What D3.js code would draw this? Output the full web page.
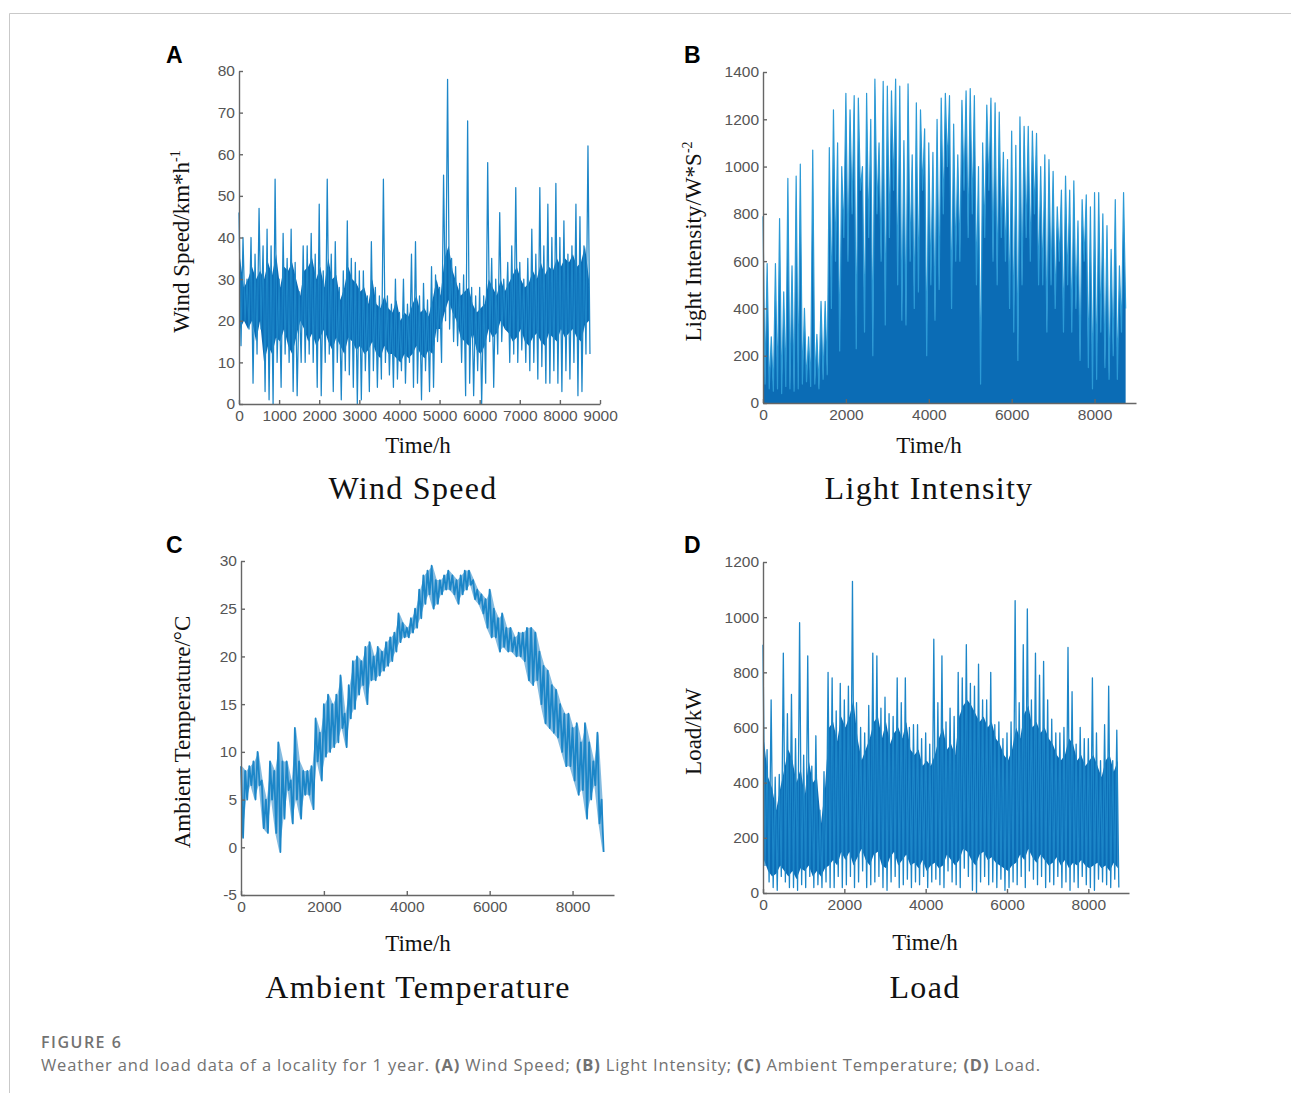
<!DOCTYPE html>
<html>
<head>
<meta charset="utf-8">
<script src="https://cdn.jsdelivr.net/npm/d3@7"></script>
<style>
  body { margin: 0; background: #fff; }
  .axis path, .axis line { stroke: #666; stroke-width: 1.4; }
  .axis text { fill: #555; }
  .axis-title { font-family: "Liberation Serif", "Times New Roman", serif; font-size: 23px; fill: #111; }
  .panel-title { font-family: "Liberation Serif", "Times New Roman", serif; font-size: 32px; letter-spacing: 1.3px; fill: #111; }
  .panel-letter { font-family: "Liberation Sans", Arial, sans-serif; font-size: 23px; font-weight: bold; fill: #000; }
</style>
</head>
<body>
<svg id="fig"></svg>
<script>
// hourly series for one year, summarised per 100 h bin
const STEP = 100;

const windHi = [46,40,30,40,36,47,38,42,38,54,
                30,41,35,42,34,27,38,38,41,36,
                48,32,54,36,39,28,32,44,35,34,
                32,32,26,39,28,26,54,26,24,30,
                22,30,24,36,39,26,29,25,33,31,
                28,55,78,35,33,29,31,68,28,26,
                28,26,58,35,30,46,30,34,38,52,
                34,30,35,42,36,52,38,48,40,53,
                40,44,36,38,48,45,38,62];
const windLo = [14,20,18,5,12,18,3,1,0,10,
                4,12,10,3,2,10,10,12,10,4,
                2,10,12,3,10,1,8,7,4,0,
                1,8,3,8,4,6,10,7,4,6,
                8,5,10,4,5,1,8,3,4,15,
                10,20,18,15,14,10,2,5,2,8,
                0,5,15,4,12,15,18,10,12,10,
                13,10,8,10,6,9,5,5,8,5,
                3,8,6,10,2,3,12,12];
const windCoreLo = [18,20,18,20,15,20,10,14,12,16,
                    15,18,14,12,16,20,18,15,17,14,
                    16,18,15,13,16,14,12,16,15,13,
                    14,12,13,15,12,11,14,12,12,11,
                    10,12,11,12,14,12,11,13,12,18,
                    18,22,25,22,20,16,15,14,17,13,
                    12,14,18,16,17,20,18,17,15,16,
                    18,15,14,16,17,15,14,17,16,15,
                    18,16,17,18,16,15,19,20];
const windCoreHi = [35,28,30,33,30,32,30,34,31,36,
                    28,33,32,34,30,26,32,33,35,30,
                    33,28,35,30,31,25,28,33,30,29,
                    27,28,24,30,24,23,26,23,22,25,
                    20,22,21,24,26,22,23,21,25,30,
                    26,35,38,32,29,26,27,28,24,22,
                    23,24,30,28,26,30,27,29,31,33,
                    30,28,29,32,30,34,31,33,32,35,
                    33,35,34,36,33,34,38,30];

const lightHi = [790,590,280,590,780,470,950,580,960,1010,
                 400,280,1070,290,430,430,1080,1240,1100,1000,
                 1310,1240,1300,1290,1000,1310,1200,1370,1100,1360,
                 1340,1320,1370,1340,1110,1350,1050,1270,1240,1160,
                 1100,1060,1200,1290,1310,1300,1180,1050,1280,1320,
                 1330,1300,1000,1100,1260,1290,1270,1230,1060,1030,
                 1150,1090,1210,1170,1170,1150,1140,1000,1050,1030,
                 980,830,900,960,900,940,770,860,880,830,
                 890,890,800,750,650,860,580,890];
const lightLo = [80,60,50,60,40,70,60,50,60,80,
                 90,70,80,60,100,120,400,600,220,700,
                 600,800,230,900,300,700,200,800,600,330,
                 700,900,500,350,330,600,400,470,900,200,
                 500,350,480,800,1000,400,600,600,900,700,
                 800,500,80,700,900,600,500,700,600,400,
                 300,180,500,700,600,800,500,500,300,500,
                 400,600,300,500,300,400,180,600,150,60,
                 100,300,150,100,200,100,300,400];

const tempHi = [8.5,8,8.5,9,10,7,5,9,8,11,
                9,9,7,12.5,9,8,8,8.5,13.5,12,
                15,16,15,16,18,14,17,19.5,20,19.5,
                21,21.5,20,21,20.5,21.5,22,22.5,24.5,23.5,
                23,24,25,27,28.5,29,29.5,28,28,28.5,
                29,28.5,28,28.5,29,29,28,27,26.5,26,
                27,25,24,24.5,23,23,22,22.5,22.5,23,
                23,22.5,20.5,19,18.5,17,16.5,15,14,14,
                12.5,13,11,13,11,9,12,5];
const tempLo = [1,5,6.5,5,6.5,2,1.5,5,1.5,-0.5,
                3,6,2.5,5,3,5.5,5.5,4,9,7,
                9.5,10,10.5,11,12.5,10.5,13.5,14.5,16,17,
                15,17.5,17.5,18,18.5,19,19.5,20.5,21.5,22,
                22,22.5,23,24,25.5,26.5,25,25.5,26.5,27,
                27,26.5,25.5,26.5,27,27.5,26,25.5,24.5,23,
                22,22,20.5,21,20.5,20.5,20,20,19.5,17.5,
                17,17.5,15,13,12.5,12,11.5,10,8.5,8.5,
                7,5.5,6,3,5,6.5,2.5,-0.5];

const loadHi = [900,520,700,420,430,870,650,720,560,980,
                500,860,460,570,300,440,800,780,660,760,
                700,750,1130,690,600,580,680,870,860,670,
                710,650,640,780,690,780,600,610,610,560,
                580,540,920,690,860,620,670,640,800,780,
                900,760,750,830,700,700,800,610,620,560,
                580,620,1060,690,900,1030,700,870,790,840,
                700,630,580,580,600,890,730,540,600,560,
                560,780,580,480,610,750,480,590];
const loadLo = [100,40,20,10,60,40,20,20,10,30,
                20,60,20,30,20,40,20,20,60,20,
                30,60,20,40,80,20,30,40,60,20,
                10,40,60,20,30,50,20,40,30,60,
                20,40,50,30,20,80,40,30,20,90,
                60,10,0,40,60,30,40,20,50,10,
                20,40,30,60,20,80,50,30,60,20,
                40,30,60,20,40,10,40,20,60,30,
                20,10,50,40,30,20,50,20];
const loadCoreLo = [120,80,60,70,100,80,60,80,50,90,
                    80,100,60,80,60,90,100,120,100,150,
                    120,150,100,130,160,120,100,140,150,100,
                    90,130,150,100,120,140,100,110,90,120,
                    80,100,110,90,100,140,120,100,120,160,
                    150,120,100,140,150,120,130,110,100,90,
                    80,100,110,140,120,160,130,110,140,120,
                    100,110,130,100,120,90,110,100,120,100,
                    90,100,110,90,100,80,110,90];
const loadCoreHi = [550,420,380,300,380,450,520,480,400,450,
                    350,480,400,420,250,380,600,620,550,640,
                    600,640,700,560,480,520,560,620,640,560,
                    620,540,580,600,560,620,520,500,520,460,
                    480,460,500,560,600,520,540,500,640,680,
                    700,680,650,620,640,600,620,560,540,500,
                    480,520,600,560,650,680,600,620,580,600,
                    560,540,500,480,500,560,540,480,500,460,
                    480,500,460,420,480,500,440,480];

const windTicksX = [0,1000,2000,3000,4000,5000,6000,7000,8000,9000];
const yearTicksX = [0,2000,4000,6000,8000];
const windTicksY = [0,10,20,30,40,50,60,70,80];
const lightTicksY = [0,200,400,600,800,1000,1200,1400];
const tempTicksY = [-5,0,5,10,15,20,25,30];
const loadTicksY = [0,200,400,600,800,1000,1200];

const W = 1292, H = 1093;
const svg = d3.select('#fig').attr('width', W).attr('height', H);

// page frame
svg.append('line').attr('x1', 9.5).attr('x2', 1291).attr('y1', 13.5).attr('y2', 13.5).attr('stroke', '#c9c9c9');
svg.append('line').attr('x1', 9.5).attr('x2', 9.5).attr('y1', 13.5).attr('y2', H).attr('stroke', '#c9c9c9');

function zigzag(hi, lo) {
  return hi.map((h, i) => [[i * STEP, h], [i * STEP + STEP / 2, lo[i]]]).flat();
}
function band(lo, hi) {
  return hi.map((h, i) => ({t: i * STEP + STEP / 4, lo: lo[i], hi: h}));
}

const panels = [
  {letter: 'A', lx: 166, ly: 63, x0: 239, x1: 600, yTop: 71, yBot: 404,
   yDomain: [0, 80], xTicks: windTicksX, yTicks: windTicksY,
   zig: zigzag(windHi, windLo), core: band(windCoreLo, windCoreHi), width: 1.25,
   yLabel: ['Wind Speed/km*h', '-1'], yLabelX: 189, title: 'Wind Speed', titleX: 413, timeX: 418, titleY: 499, xLabelY: 453},
  {letter: 'B', lx: 684, ly: 63, x0: 763, x1: 1136, yTop: 72, yBot: 403,
   yDomain: [0, 1400], xTicks: yearTicksX, yTicks: lightTicksY,
   zig: zigzag(lightHi, lightLo), fillUnder: true, width: 1.2,
   yLabel: ['Light Intensity/W*S', '-2'], yLabelX: 701, title: 'Light Intensity', titleX: 929, timeX: 929, titleY: 499, xLabelY: 453},
  {letter: 'C', lx: 166, ly: 553, x0: 241, x1: 614, yTop: 561, yBot: 895,
   yDomain: [-5, 30], xTicks: yearTicksX, yTicks: tempTicksY,
   zig: zigzag(tempHi, tempLo), soft: band(tempLo, tempHi), width: 1.8,
   yLabel: ['Ambient Temperature/°C', ''], yLabelX: 190, title: 'Ambient Temperature', titleX: 418, timeX: 418, titleY: 998, xLabelY: 951},
  {letter: 'D', lx: 684, ly: 553, x0: 763, x1: 1129, yTop: 562, yBot: 893,
   yDomain: [0, 1200], xTicks: yearTicksX, yTicks: loadTicksY,
   zig: zigzag(loadHi, loadLo), core: band(loadCoreLo, loadCoreHi), width: 1.3,
   yLabel: ['Load/kW', ''], yLabelX: 701, title: 'Load', titleX: 925, timeX: 925, titleY: 998, xLabelY: 950}
];

panels.forEach(p => {
  const x = d3.scaleLinear().domain([0, 9000]).range([p.x0, p.x1]);
  const y = d3.scaleLinear().domain(p.yDomain).range([p.yBot, p.yTop]);
  const g = svg.append('g');

  if (p.core) {
    g.append('path')
      .datum(p.core)
      .attr('fill', '#0b6cb5')
      .attr('d', d3.area().x(d => x(d.t)).y0(d => y(d.lo)).y1(d => y(d.hi)));
  }
  if (p.soft) {
    // blurred-looking body of the temperature band
    g.append('path')
      .datum(p.soft)
      .attr('fill', '#1f84c6')
      .attr('fill-opacity', 0.55)
      .attr('d', d3.area().x(d => x(d.t)).y0(d => y(d.lo)).y1(d => y(d.hi)));
  }
  if (p.fillUnder) {
    g.append('path')
      .datum(p.zig)
      .attr('fill', '#0b6cb5')
      .attr('d', d3.area().x(d => x(d[0])).y0(y(0)).y1(d => y(d[1])));
  }

  g.append('path')
    .datum(p.zig)
    .attr('fill', 'none')
    .attr('stroke', p.fillUnder ? '#2c9ad6' : '#1c86c8')
    .attr('stroke-width', p.width)
    .attr('stroke-linejoin', 'round')
    .attr('d', d3.line().x(d => x(d[0])).y(d => y(d[1])));

  const xa = g.append('g').attr('class', 'axis')
    .attr('transform', `translate(0,${p.yBot})`)
    .call(d3.axisBottom(x).tickValues(p.xTicks).tickSizeInner(-4).tickSizeOuter(0).tickPadding(6).tickFormat(d => String(d)));
  const ya = g.append('g').attr('class', 'axis')
    .attr('transform', `translate(${p.x0},0)`)
    .call(d3.axisLeft(y).tickValues(p.yTicks).tickSizeInner(-4).tickSizeOuter(0).tickPadding(4).tickFormat(d => String(d)));
  [xa, ya].forEach(a => a.attr('font-family', '"Liberation Sans", Arial, sans-serif').attr('font-size', 15.5));

  g.append('text').attr('class', 'axis-title')
    .attr('x', p.timeX).attr('y', p.xLabelY).attr('text-anchor', 'middle').text('Time/h');

  const yl = g.append('text').attr('class', 'axis-title')
    .attr('transform', `translate(${p.yLabelX},${(p.yTop + p.yBot) / 2 + 4}) rotate(-90)`)
    .attr('text-anchor', 'middle');
  yl.append('tspan').text(p.yLabel[0]);
  if (p.yLabel[1]) yl.append('tspan').attr('dy', -9).attr('font-size', 14).text(p.yLabel[1]);

  g.append('text').attr('class', 'panel-title')
    .attr('x', p.titleX).attr('y', p.titleY).attr('text-anchor', 'middle').text(p.title);

  g.append('text').attr('class', 'panel-letter')
    .attr('x', p.lx).attr('y', p.ly).text(p.letter);
});

// caption
const cap = svg.append('g').style('font-family', '"Open Sans", "Noto Sans", sans-serif').attr('fill', '#727272');
cap.append('text').attr('x', 41).attr('y', 1048).attr('font-size', 16).attr('font-weight', 600).attr('letter-spacing', 1.5).text('FIGURE 6');
const line2 = cap.append('text').attr('x', 41).attr('y', 1071).attr('font-size', 16.5).attr('letter-spacing', 0.85);
[['Weather and load data of a locality for 1 year. ', false], ['(A)', true], [' Wind Speed; ', false],
 ['(B)', true], [' Light Intensity; ', false], ['(C)', true], [' Ambient Temperature; ', false],
 ['(D)', true], [' Load.', false]].forEach(([s, b]) => {
  line2.append('tspan').attr('font-weight', b ? 700 : 400).text(s);
});
</script>
</body>
</html>
